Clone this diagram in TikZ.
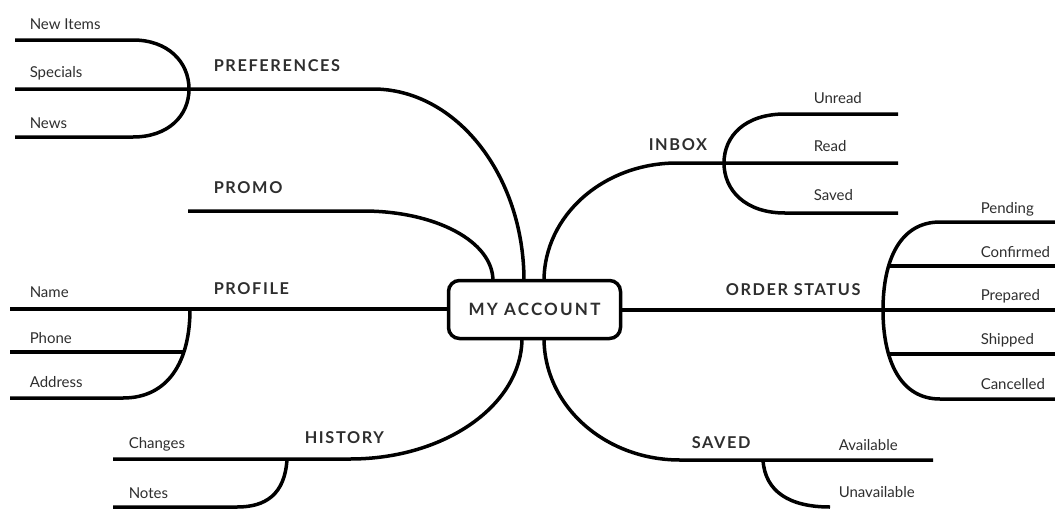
\documentclass[tikz,border=0pt]{standalone}
\usepackage{fontspec}
\setmainfont{Lato}
\newfontfamily\headfont{Lato}[LetterSpace=10]
\newfontfamily\boxfont{Lato}[LetterSpace=13]
\definecolor{ink}{HTML}{2E2E2E}

\begin{document}
\begin{tikzpicture}[x=1pt,y=-1pt,line width=3.5pt,
  leaf/.style={anchor=base west,inner sep=0pt,text=ink,font=\fontsize{15}{18}\selectfont},
  topic/.style={anchor=base west,inner sep=0pt,text=ink,font=\headfont\bfseries\fontsize{16.3}{19}\selectfont}]
\useasboundingbox (0,0) rectangle (1055,509);
% points of the branches
\path (524,281) coordinate (pf0) (373,89) coordinate (pf1) (15,89) coordinate (pf2)
      (133,40) coordinate (ni0) (15,40) coordinate (ni1) (189,89) coordinate (sp0)
      (133,137) coordinate (nw0) (15,137) coordinate (nw1);
\path (493,281) coordinate (pr0) (363,211) coordinate (pr1) (188,211) coordinate (pr2);
\path (449,309) coordinate (pa0) (10,309) coordinate (pa1) (190,309) coordinate (pa2)
      (123,398) coordinate (ad0) (10,398) coordinate (ad1) (10,352) coordinate (ph0) (183,352) coordinate (ph1);
\path (522,338) coordinate (hi0) (350,459) coordinate (hi1) (113,459) coordinate (hi2)
      (287,459) coordinate (no0) (237,507) coordinate (no1) (113,507) coordinate (no2);
\path (544,338) coordinate (sv0) (680,460) coordinate (sv1) (933,460) coordinate (sv2)
      (763,460) coordinate (un0) (830,507) coordinate (un1);
\path (544,281) coordinate (ib0) (677,163) coordinate (ib1) (898,163) coordinate (ib2)
      (724,163) coordinate (rd0) (785,114) coordinate (ur0) (898,114) coordinate (ur1)
      (785,213) coordinate (sd0) (898,213) coordinate (sd1);
\path (620,310) coordinate (os0) (1055,310) coordinate (os1) (883,310) coordinate (pp0)
      (940,222) coordinate (pe0) (1055,222) coordinate (pe1) (940,399) coordinate (ca0) (1055,399) coordinate (ca1)
      (888,266) coordinate (co0) (1055,266) coordinate (co1) (888,354) coordinate (sh0) (1055,354) coordinate (sh1);

% branches
\draw(pf0) .. controls (524,175) and (456,89) .. (pf1) -- (pf2);
\draw(ni1) -- (ni0) .. controls (168,40) and (189,62) .. (sp0) .. controls (189,116) and (168,137) .. (nw0) -- (nw1);
\draw(pr0) .. controls (493,241) and (435,211) .. (pr1) -- (pr2);
\draw(pa0) -- (pa1)(ph0) -- (ph1);
\draw(pa2) .. controls (190,362) and (168,398) .. (ad0) -- (ad1);
\draw(hi0) .. controls (522,405) and (445,459) .. (hi1) -- (hi2);
\draw(no0) .. controls (285,495) and (265,507) .. (no1) -- (no2);
\draw(sv0) .. controls (544,406) and (605,460) .. (sv1) -- (sv2);
\draw(un0) .. controls (765,492) and (790,507) .. (un1);
\draw(ib0) .. controls (544,215) and (604,163) .. (ib1) -- (ib2);
\draw(ur1) -- (ur0) .. controls (745,114) and (724,136) .. (rd0) .. controls (724,190) and (745,213) .. (sd0) -- (sd1);
\draw(os0) -- (os1)(co0) -- (co1)(sh0) -- (sh1);
\draw(pe1) -- (pe0) .. controls (900,222) and (883,260) .. (pp0) .. controls (883,360) and (900,399) .. (ca0) -- (ca1);

% centre
\node[draw,fill=white,rounded corners=11pt,minimum width=172pt,minimum height=58pt,
  text=ink,font=\boxfont\bfseries\fontsize{17}{20}\selectfont] (acct) at (534.5,309.5) {MY ACCOUNT};

% topics
\node[topic] (pref) at (212,71) {PREFERENCES};
\node[topic] (promo) at (212,193) {PROMO};
\node[topic] (prof) at (212,294) {PROFILE};
\node[topic] (hist) at (303,443) {HISTORY};
\node[topic] (inbox) at (647,150) {INBOX};
\node[topic] (ord) at (724,295) {ORDER STATUS};
\node[topic] (saved) at (690,448) {SAVED};

% leaves
\node[leaf] (newit) at (28,29) {New Items};
\node[leaf] (spec) at (28,77) {Specials};
\node[leaf] (news) at (28,128) {News};
\node[leaf] (name) at (28,297) {Name};
\node[leaf] (phone) at (28,343) {Phone};
\node[leaf] (addr) at (28,387) {Address};
\node[leaf] (chg) at (127,448) {Changes};
\node[leaf] (notes) at (127,498) {Notes};
\node[leaf] (unrd) at (812,103) {Unread};
\node[leaf] (read) at (812,151) {Read};
\node[leaf] (svd) at (812,200) {Saved};
\node[leaf] (pend) at (979,213) {Pending};
\node[leaf] (conf) at (979,257) {Confirmed};
\node[leaf] (prep) at (979,300) {Prepared};
\node[leaf] (ship) at (979,344) {Shipped};
\node[leaf] (canc) at (979,389) {Cancelled};
\node[leaf] (avail) at (837,450) {Available};
\node[leaf] (unav) at (837,497) {Unavailable};
\end{tikzpicture}
\end{document}
